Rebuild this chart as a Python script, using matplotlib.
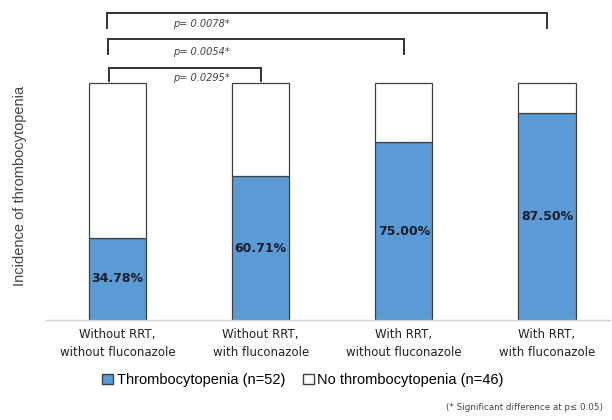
import matplotlib
matplotlib.use("Agg")
import matplotlib.pyplot as plt
from matplotlib.patches import Patch

categories = ["Without RRT,\nwithout fluconazole", "Without RRT,\nwith fluconazole",
              "With RRT,\nwithout fluconazole", "With RRT,\nwith fluconazole"]
thrombo = [34.78, 60.71, 75.00, 87.50]
no_thrombo = [100 - v for v in thrombo]
comparisons = [(0, 1, "p= 0.0295*"), (0, 2, "p= 0.0054*"), (0, 3, "p= 0.0078*")]
legend_labels = ["Thrombocytopenia (n=52)", "No thrombocytopenia (n=46)"]

blue = "#5B9BD5"
edge = "#404040"

fig = plt.figure(figsize=(6.12, 4.2), dpi=100)
ax = fig.add_axes([46/612, 100/420, (610-46)/612, 320/420])

x = list(range(len(categories)))
frac_t = [v/100 for v in thrombo]
frac_n = [v/100 for v in no_thrombo]
ax.bar(x, frac_t, width=0.4, color=blue, edgecolor=edge, linewidth=0.9)
ax.bar(x, frac_n, width=0.4, bottom=frac_t, color="white", edgecolor=edge, linewidth=0.9)

for xi, v in zip(x, thrombo):
    ax.text(xi, v/200, f"{v:.2f}%", ha="center", va="center", fontsize=9,
            fontweight="bold", color="#1c1c2a")

ax.set_xlim(-0.5, 3.44)
ax.set_ylim(0, 320/237)

# brackets
levels = [(1.008, 1.063, 1.021), (1.122, 1.186, 1.131), (1.232, 1.295, 1.249)]
lefts = [-0.06, -0.067, -0.073]
for (i, j, txt), (lo, hi, ty), lx in zip(comparisons, levels, lefts):
    ax.plot([lx, lx, j, j], [lo, hi, hi, lo], color="#333333", lw=1.4,
            solid_joinstyle="miter", clip_on=False)
    ax.text(0.387, ty, txt, ha="left", va="center", fontsize=7,
            style="italic", color="#444444")

ax.set_xticks(x)
ax.set_xticklabels(categories, fontsize=8.5, color="#222222", linespacing=1.5)
ax.tick_params(axis="x", length=0, pad=6)
ax.set_yticks([])
for s in ["top", "right", "left"]:
    ax.spines[s].set_visible(False)
ax.spines["bottom"].set_color("#d0d0d0")
ax.spines["bottom"].set_linewidth(1.0)

fig.text(20/612, 1 - 186/420, "Incidence of thrombocytopenia", rotation=90,
         ha="center", va="center", fontsize=10.5, color="#444444",
         family=["Liberation Sans", "DejaVu Sans"])

handles = [Patch(facecolor=blue, edgecolor=edge, label=legend_labels[0]),
           Patch(facecolor="white", edgecolor=edge, label=legend_labels[1])]
fig.legend(handles=handles, loc="center", bbox_to_anchor=(303/612, 1 - 380/420), ncol=2,
           frameon=False, prop={"family": ["Liberation Sans", "DejaVu Sans"], "size": 10.5},
           handlelength=0.75, handleheight=0.75,
           handletextpad=0.25, columnspacing=1.2)

fig.text(603/612, 1 - 408/420, "(* Significant difference at p\u2264 0.05)", ha="right",
         va="center", fontsize=6.3, color="#444444")

fig.savefig("out.png", dpi=100)
